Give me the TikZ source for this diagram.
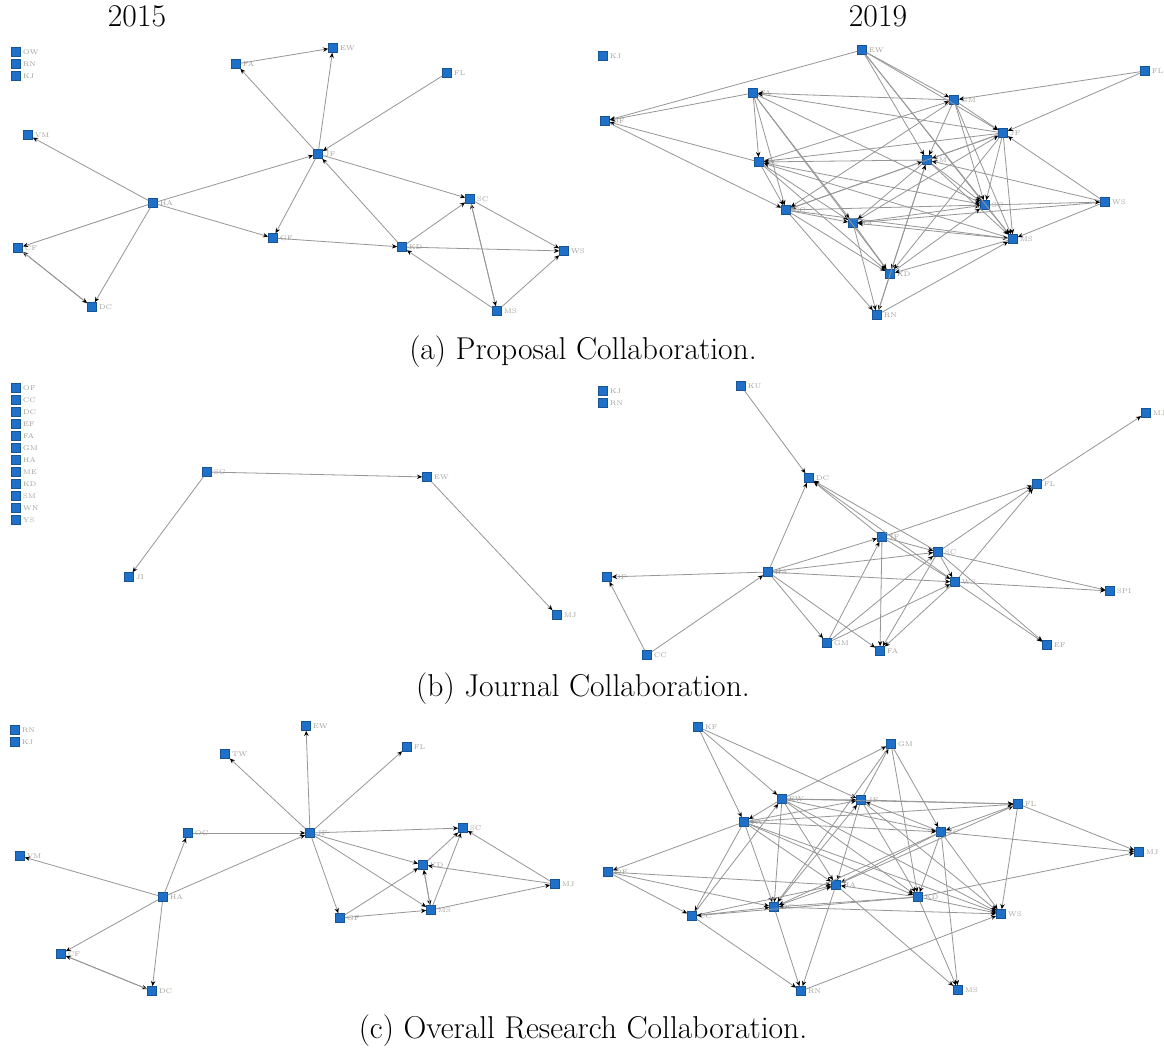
\documentclass[tikz,border=0pt]{standalone}
\usepackage{tikz}
\usetikzlibrary{arrows.meta,positioning}
\definecolor{netblue}{RGB}{31,112,200}
\definecolor{netedge}{RGB}{150,150,150}
\definecolor{netlabel}{RGB}{165,160,155}
\tikzset{
  vtx/.style={rectangle,fill=netblue,draw=netblue!75!black,line width=0.2pt,
    minimum size=4.6pt,inner sep=0pt,
    label={[font=\fontsize{3.4}{3.4}\selectfont,text=netlabel,inner sep=0.8pt]right:#1}},
  vtx/.default={},
  link/.style={draw=netedge,line width=0.4pt,
    -{Stealth[length=2.6pt,width=2.2pt,color=black]}},
  heading/.style={font=\fontsize{15.8}{19}\selectfont}
}
\begin{document}
\begin{tikzpicture}[x=0.5pt,y=-0.5pt]
  \fill[white] (0,0) rectangle (1164,1048);
  \useasboundingbox (0,0) rectangle (1164,1048);

  %% Column headings and captions
  \node[heading] (t15) at (137,16) {2015};
  \node[heading] (t19) at (878,16) {2019};
  \node[heading] (capa) at (583,352) {(a) Proposal Collaboration.};
  \node[heading] (capb) at (583,689) {(b) Journal Collaboration.};
  \node[heading] (capc) at (583,1031) {(c) Overall Research Collaboration.};

  %% (a) Proposal, 2015
  \node[vtx=OW] (pa15-ow) at (16,52) {};
  \node[vtx=RN] (pa15-rn) at (16,64) {};
  \node[vtx=KJ] (pa15-kj) at (16,76) {};
  \node[vtx=FA] (pa15-fa) at (236,64) {};
  \node[vtx=EW] (pa15-ew) at (333,48) {};
  \node[vtx=FL] (pa15-fl) at (447,73) {};
  \node[vtx=VM] (pa15-vm) at (28,135) {};
  \node[vtx=JF] (pa15-jf) at (318,154) {};
  \node[vtx=HA] (pa15-ha) at (153,203) {};
  \node[vtx=CF] (pa15-cf) at (18,248) {};
  \node[vtx=GF] (pa15-gf) at (273,238) {};
  \node[vtx=DC] (pa15-dc) at (92,307) {};
  \node[vtx=SC] (pa15-sc) at (470,199) {};
  \node[vtx=KD] (pa15-kd) at (402,247) {};
  \node[vtx=WS] (pa15-ws) at (564,251) {};
  \node[vtx=MS] (pa15-ms) at (497,311) {};
  \foreach \s/\t in {fa/ew,jf/fa,jf/ew,fl/jf,ha/vm,ha/jf,ha/gf,ha/cf,ha/dc,
      dc/cf,cf/dc,jf/gf,gf/kd,jf/sc,kd/jf,kd/sc,kd/ws,sc/ws,ms/sc,sc/ms,
      ms/kd,ms/ws}
    \draw[link] (pa15-\s) -- (pa15-\t);

  %% (a) Proposal, 2019
  \node[vtx=KJ] (pa19-kj) at (603,56) {};
  \node[vtx=OF] (pa19-of) at (605,121) {};
  \node[vtx=EW] (pa19-ew) at (862,50) {};
  \node[vtx=FA] (pa19-fa) at (753,93) {};
  \node[vtx=DC] (pa19-dc) at (759,162) {};
  \node[vtx=CC] (pa19-cc) at (786,210) {};
  \node[vtx=HA] (pa19-ha) at (853,223) {};
  \node[vtx=KD] (pa19-kd) at (890,274) {};
  \node[vtx=RN] (pa19-rn) at (877,315) {};
  \node[vtx=GM] (pa19-gm) at (954,100) {};
  \node[vtx=FL] (pa19-fl) at (1145,71) {};
  \node[vtx=JF] (pa19-jf) at (1003,133) {};
  \node[vtx=SM] (pa19-sm) at (927,160) {};
  \node[vtx=SC] (pa19-sc) at (985,205) {};
  \node[vtx=WS] (pa19-ws) at (1105,202) {};
  \node[vtx=MS] (pa19-ms) at (1013,239) {};
  \foreach \s/\t in {ew/of,fa/of,dc/of,of/cc,ew/gm,ew/jf,ew/sc,ew/sm,ew/ms,
      fa/dc,fa/cc,fa/ha,gm/fa,jf/fa,fa/sc,fa/kd,dc/cc,dc/gm,jf/dc,sm/dc,
      dc/sc,ms/dc,dc/ha,dc/kd,cc/ha,cc/rn,jf/cc,cc/sm,cc/sc,cc/ms,gm/cc,
      cc/kd,ha/kd,ha/rn,ha/jf,sm/ha,ha/sc,ms/ha,ws/ha,kd/rn,jf/kd,sm/kd,
      ms/kd,kd/sc,rn/ms,rn/sm,fl/gm,gm/jf,gm/sc,gm/ms,gm/sm,fl/jf,jf/sm,
      jf/sc,ws/jf,jf/ms,sm/sc,sm/ms,ws/sm,sc/ws,sc/ms,ws/ms}
    \draw[link] (pa19-\s) -- (pa19-\t);

  %% (b) Journal, 2015
  \node[vtx=OF] (pb15-of) at (16,388) {};
  \node[vtx=CC] (pb15-cc) at (16,400) {};
  \node[vtx=DC] (pb15-dc) at (16,412) {};
  \node[vtx=EF] (pb15-ef) at (16,424) {};
  \node[vtx=FA] (pb15-fa) at (16,436) {};
  \node[vtx=GM] (pb15-gm) at (16,448) {};
  \node[vtx=HA] (pb15-ha) at (16,460) {};
  \node[vtx=ME] (pb15-me) at (16,472) {};
  \node[vtx=KD] (pb15-kd) at (16,484) {};
  \node[vtx=SM] (pb15-sm) at (16,496) {};
  \node[vtx=WN] (pb15-wn) at (16,508) {};
  \node[vtx=YS] (pb15-ys) at (16,520) {};
  \node[vtx=SC] (pb15-sc) at (207,472) {};
  \node[vtx=JI] (pb15-ji) at (129,577) {};
  \node[vtx=EW] (pb15-ew) at (427,477) {};
  \node[vtx=MJ] (pb15-mj) at (557,615) {};
  \foreach \s/\t in {sc/ew,sc/ji,ew/mj}
    \draw[link] (pb15-\s) -- (pb15-\t);

  %% (b) Journal, 2019
  \node[vtx=KJ] (pb19-kj) at (603,391) {};
  \node[vtx=RN] (pb19-rn) at (603,403) {};
  \node[vtx=KU] (pb19-ku) at (741,386) {};
  \node[vtx=DC] (pb19-dc) at (809,478) {};
  \node[vtx=HA] (pb19-ha) at (768,572) {};
  \node[vtx=OF] (pb19-of) at (607,577) {};
  \node[vtx=CC] (pb19-cc) at (647,655) {};
  \node[vtx=GM] (pb19-gm) at (827,643) {};
  \node[vtx=FA] (pb19-fa) at (880,651) {};
  \node[vtx=JF] (pb19-jf) at (882,537) {};
  \node[vtx=SC] (pb19-sc) at (938,552) {};
  \node[vtx=WS] (pb19-ws) at (955,582) {};
  \node[vtx=FL] (pb19-fl) at (1037,484) {};
  \node[vtx=MJ] (pb19-mj) at (1146,413) {};
  \node[vtx=SPI] (pb19-spi) at (1110,591) {};
  \node[vtx=EF] (pb19-ef) at (1047,645) {};
  \foreach \s/\t in {ku/dc,ha/dc,ha/of,cc/of,cc/ha,ha/gm,ha/fa,ha/jf,ha/sc,
      ha/ws,jf/dc,sc/dc,ws/dc,jf/fl,sc/fl,ws/fl,fl/mj,sc/spi,ws/spi,ws/ef,
      sc/ef,jf/fa,sc/fa,ws/fa,gm/jf,gm/sc,gm/ws,jf/ws,sc/ws,jf/sc}
    \draw[link] (pb19-\s) -- (pb19-\t);

  %% (c) Overall research, 2015
  \node[vtx=RN] (pc15-rn) at (15,730) {};
  \node[vtx=KJ] (pc15-kj) at (15,742) {};
  \node[vtx=TW] (pc15-tw) at (225,754) {};
  \node[vtx=OC] (pc15-oc) at (188,833) {};
  \node[vtx=VM] (pc15-vm) at (20,856) {};
  \node[vtx=HA] (pc15-ha) at (163,897) {};
  \node[vtx=CF] (pc15-cf) at (61,954) {};
  \node[vtx=DC] (pc15-dc) at (152,991) {};
  \node[vtx=EW] (pc15-ew) at (306,726) {};
  \node[vtx=FL] (pc15-fl) at (407,747) {};
  \node[vtx=JF] (pc15-jf) at (310,833) {};
  \node[vtx=SC] (pc15-sc) at (463,828) {};
  \node[vtx=KD] (pc15-kd) at (423,865) {};
  \node[vtx=MJ] (pc15-mj) at (555,884) {};
  \node[vtx=MS] (pc15-ms) at (431,910) {};
  \node[vtx=GF] (pc15-gf) at (340,918) {};
  \foreach \s/\t in {jf/tw,jf/ew,jf/fl,oc/jf,ha/vm,ha/oc,ha/jf,ha/cf,ha/dc,
      cf/dc,dc/cf,jf/sc,jf/kd,jf/ms,jf/gf,gf/kd,gf/ms,kd/ms,ms/kd,ms/sc,
      kd/sc,mj/sc,mj/kd,ms/mj}
    \draw[link] (pc15-\s) -- (pc15-\t);

  %% (c) Overall research, 2019
  \node[vtx=KF] (pc19-kf) at (698,727) {};
  \node[vtx=EW] (pc19-ew) at (782,799) {};
  \node[vtx=JF] (pc19-jf) at (861,800) {};
  \node[vtx=FA] (pc19-fa) at (744,822) {};
  \node[vtx=OF] (pc19-of) at (608,872) {};
  \node[vtx=HA] (pc19-ha) at (836,885) {};
  \node[vtx=DC] (pc19-dc) at (774,907) {};
  \node[vtx=CC] (pc19-cc) at (692,916) {};
  \node[vtx=RN] (pc19-rn) at (801,991) {};
  \node[vtx=GM] (pc19-gm) at (891,744) {};
  \node[vtx=FL] (pc19-fl) at (1018,804) {};
  \node[vtx=SC] (pc19-sc) at (941,832) {};
  \node[vtx=MJ] (pc19-mj) at (1139,852) {};
  \node[vtx=KD] (pc19-kd) at (918,897) {};
  \node[vtx=WS] (pc19-ws) at (1001,914) {};
  \node[vtx=MS] (pc19-ms) at (958,990) {};
  \foreach \s/\t in {kf/ew,kf/jf,kf/fa,ew/jf,ew/fa,ew/ha,ew/dc,ew/gm,ew/fl,
      ew/sc,ew/kd,ew/ws,jf/gm,fa/jf,jf/ha,jf/fl,sc/jf,jf/kd,dc/jf,jf/ws,
      fa/of,fa/dc,fa/cc,fa/ha,fa/sc,fa/fl,fa/kd,fa/ws,of/cc,of/dc,of/ha,
      dc/ha,cc/ha,ha/rn,sc/ha,kd/ha,ha/ms,ha/fl,cc/dc,dc/rn,sc/dc,kd/dc,
      dc/ws,gm/dc,cc/rn,kd/cc,cc/ew,rn/ws,gm/sc,gm/kd,fl/sc,fl/mj,fl/ws,
      sc/mj,sc/kd,sc/ws,sc/ms,kd/mj,kd/ws,kd/ms}
    \draw[link] (pc19-\s) -- (pc19-\t);
\end{tikzpicture}
\end{document}
